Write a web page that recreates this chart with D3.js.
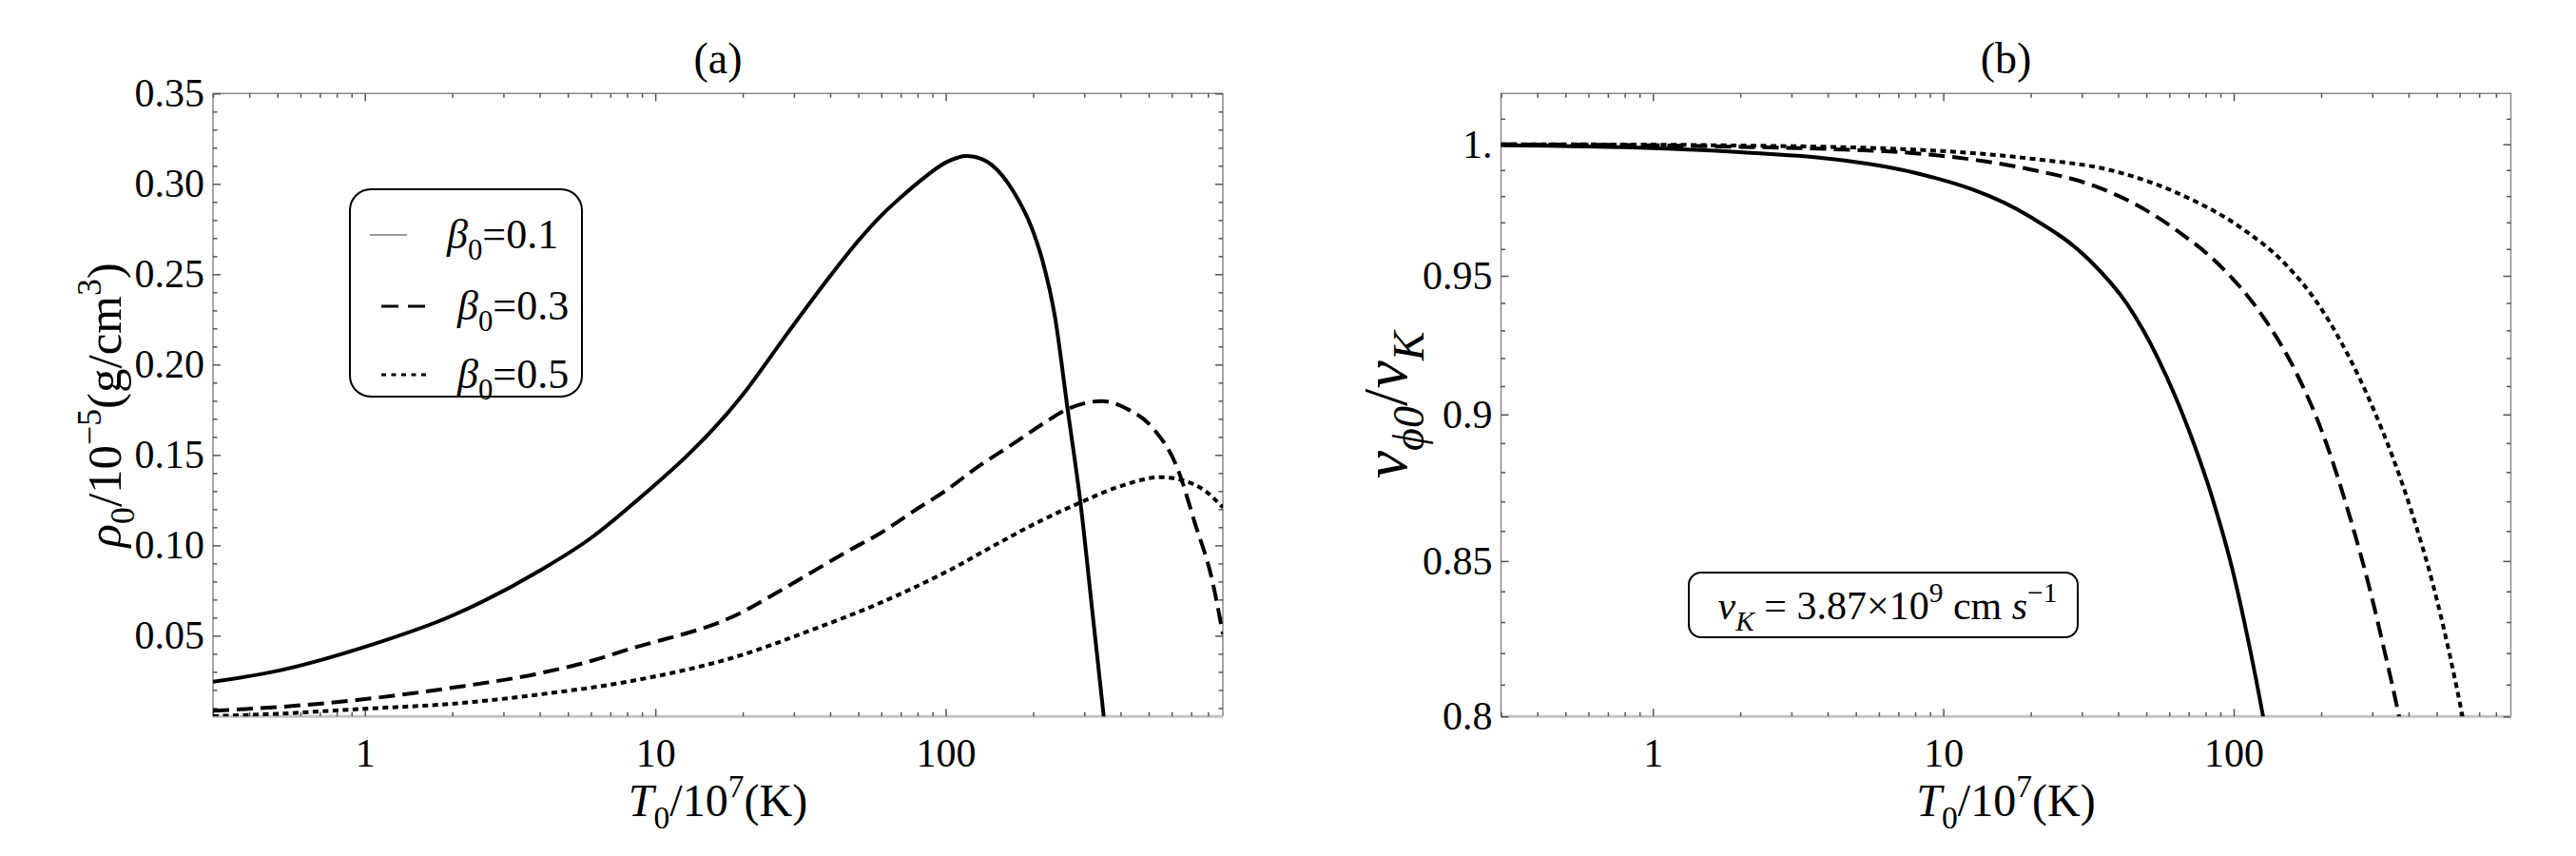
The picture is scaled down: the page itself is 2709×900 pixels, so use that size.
<!DOCTYPE html>
<html>
<head>
<meta charset="utf-8">
<script src="https://cdn.jsdelivr.net/npm/d3@7"></script>
<style>
  body { margin: 0; background: #fff; }
  svg { display: block; font-family: "Liberation Serif", "DejaVu Serif", serif; }
</style>
</head>
<body>
<svg width="2709" height="900"></svg>
<script>
// ---- data ----
// panel (a): rho0 / 1e-5 (g/cm^3) against T0 / 1e7 K
var tA1 = [0.3, 0.5, 1, 2, 4, 6, 8, 20, 28.6, 40, 50, 60, 70, 80, 90, 100, 110, 117, 125, 144, 170, 198, 215, 238, 263, 291, 320, 350, 375];
var rhoA1 = [0.0245, 0.0305, 0.0438, 0.0611, 0.086, 0.104, 0.1202, 0.1833, 0.2176, 0.249, 0.2685, 0.2825, 0.2925, 0.3005, 0.307, 0.3118, 0.3145, 0.3154, 0.315, 0.3105, 0.2965, 0.2754, 0.258, 0.226, 0.175, 0.1237, 0.063, 0.0053, -0.04];
var tA3 = [0.3, 0.5, 1, 2, 4, 6, 8, 20, 25, 33.8, 45.7, 60, 78, 99, 130, 170, 215, 263, 345, 422, 516, 630, 722, 827, 900];
var rhoA3 = [0.0085, 0.0105, 0.0149, 0.0212, 0.0292, 0.036, 0.0422, 0.0632, 0.0719, 0.0842, 0.0965, 0.107, 0.1192, 0.1298, 0.1438, 0.156, 0.167, 0.1754, 0.1798, 0.1754, 0.165, 0.142, 0.112, 0.0807, 0.0509];
var tA5 = [0.3, 0.5, 1, 2, 4, 8, 20, 33.8, 60, 102, 154, 215, 291, 394, 551, 653, 773, 900];
var rhoA5 = [0.0055, 0.0068, 0.0096, 0.0123, 0.0175, 0.0245, 0.0395, 0.0526, 0.0684, 0.0859, 0.1017, 0.114, 0.1237, 0.1324, 0.1377, 0.136, 0.1307, 0.121];

// panel (b): v_phi0 / v_K against T0 / 1e7 K
var tB1 = [0.3, 1, 2, 4, 6, 8, 20, 31.8, 43, 54.5, 70, 84.3, 99.8, 112, 125.5, 140];
var vB1 = [0.9996, 0.9985, 0.9969, 0.99445, 0.99176, 0.98893, 0.972, 0.9559, 0.9395, 0.9205, 0.8946, 0.8713, 0.8458, 0.8244, 0.8012, 0.776];
var tB3 = [0.3, 1, 2, 4, 8, 20, 32.9, 46, 64.4, 90.2, 126.3, 165, 202.4, 254, 290.9, 333.1, 368.2, 400];
var vB3 = [0.99995, 0.9996, 0.999, 0.99815, 0.9965, 0.9902, 0.984, 0.9768, 0.9666, 0.9535, 0.9349, 0.9143, 0.8934, 0.8631, 0.8425, 0.8193, 0.8014, 0.785];
var tB5 = [0.3, 1, 2, 4, 7.2, 19.9, 38.9, 64.4, 106.6, 149.5, 195.5, 247.5, 303, 410, 485.6, 555.5, 610.4, 650];
var vB5 = [1.0, 0.99985, 0.9995, 0.999, 0.99815, 0.99445, 0.98955, 0.98103, 0.96775, 0.9547, 0.9395, 0.9211, 0.9018, 0.8664, 0.8422, 0.8191, 0.801, 0.788];

var betaLabels = ["0.1", "0.3", "0.5"];
var xTicks = [1, 10, 100];
var xTickLabels = ["1", "10", "100"];
var yTicksA = [0.05, 0.1, 0.15, 0.2, 0.25, 0.3, 0.35];
var yTickLabelsA = ["0.05", "0.10", "0.15", "0.20", "0.25", "0.30", "0.35"];
var yTicksB = [0.8, 0.85, 0.9, 0.95, 1.0];
var yTickLabelsB = ["0.8", "0.85", "0.9", "0.95", "1."];

var styles = [
  { dash: null },
  { dash: "17,8" },
  { dash: "6,4.5" }
];

var svg = d3.select("svg");

var top_ = 98.3, bottom = 753.3;

var xA = d3.scaleLog().domain([0.3, 900]).range([224, 1286]);
var yA = d3.scaleLinear().domain([0.0053, 0.35]).range([bottom, top_]);
var xB = d3.scaleLog().domain([0.3, 900]).range([1578.5, 2640.5]);
var yB = d3.scaleLog().domain([0.8, 1.02]).range([bottom, top_]);

function zip(t, v) {
  return t.map(function (d, i) { return [d, v[i]]; });
}

// text with italic parts, subscripts and superscripts
function richText(txt, parts, size) {
  var shift = 0;
  parts.forEach(function (p) {
    var kind = p[1] || "";
    var fs = size, target = 0;
    if (kind.indexOf("sub") >= 0) { fs = size * 0.7; target = size * 0.28; }
    if (kind.indexOf("sup") >= 0) { fs = size * 0.7; target = -size * 0.42; }
    txt.append("tspan")
      .attr("font-size", fs)
      .attr("font-style", kind.indexOf("i") === 0 ? "italic" : null)
      .attr("dy", target - shift)
      .text(p[0]);
    shift = target;
  });
}

function minorLog(x) {
  var out = [];
  [0.1, 1, 10, 100].forEach(function (d) {
    for (var k = 2; k <= 9; k++) {
      var v = k * d;
      if (v > x.domain()[0] && v < x.domain()[1]) out.push(v);
    }
  });
  return out;
}

function panel(id, x, y, yTicks, yLabels, yMinor, series, title) {
  var g = svg.append("g").attr("class", "panel-" + id);
  var x0 = x.range()[0], x1 = x.range()[1];

  g.append("clipPath").attr("id", "clip-" + id)
    .append("rect")
    .attr("x", x0).attr("y", top_)
    .attr("width", x1 - x0).attr("height", bottom - top_);

  // frame
  g.append("path")
    .attr("d", "M" + x0 + "," + bottom + "V" + top_ + "H" + x1 + "V" + bottom)
    .attr("fill", "none").attr("stroke", "#8a8a8a").attr("stroke-width", 1.5);
  g.append("line")
    .attr("x1", x0).attr("x2", x1).attr("y1", bottom).attr("y2", bottom)
    .attr("stroke", "#c4c4c4").attr("stroke-width", 3);

  var mkAxis = function (gen, vals, size, fmt, tr) {
    var a = g.append("g")
      .attr("transform", tr)
      .call(gen.tickValues(vals).tickSize(size).tickPadding(fmt ? 10 : 0)
        .tickFormat(fmt || function () { return ""; }));
    a.attr("font-family", null).attr("font-size", 42);
    a.select(".domain").remove();
    a.selectAll("line").attr("stroke", "#555").attr("stroke-width", 1.5);
    a.selectAll("text").attr("fill", "#000");
    return a;
  };

  var xMinor = minorLog(x).filter(function (v) { return xTicks.indexOf(v) < 0; });
  var xl = function (v) { return xTickLabels[xTicks.indexOf(v)]; };
  var yl = function (v) { return yLabels[yTicks.indexOf(v)]; };

  var xb = mkAxis(d3.axisBottom(x), xTicks, -8, xl, "translate(0," + bottom + ")");
  xb.selectAll("text").attr("dy", null).attr("y", 53);
  mkAxis(d3.axisBottom(x), xMinor, -4.5, null, "translate(0," + bottom + ")");
  mkAxis(d3.axisTop(x), xTicks, -8, null, "translate(0," + top_ + ")");
  mkAxis(d3.axisTop(x), xMinor, -4.5, null, "translate(0," + top_ + ")");
  var ya = mkAxis(d3.axisLeft(y), yTicks, -8, yl, "translate(" + x0 + ",0)");
  ya.selectAll("text").attr("x", -9);
  mkAxis(d3.axisLeft(y), yMinor, -4.5, null, "translate(" + x0 + ",0)");
  mkAxis(d3.axisRight(y), yTicks, -8, null, "translate(" + x1 + ",0)");
  mkAxis(d3.axisRight(y), yMinor, -4.5, null, "translate(" + x1 + ",0)");

  // curves
  var line = d3.line()
    .x(function (d) { return x(d[0]); })
    .y(function (d) { return y(d[1]); })
    .curve(d3.curveMonotoneX);

  g.append("g")
    .attr("clip-path", "url(#clip-" + id + ")")
    .selectAll("path")
    .data(series)
    .enter()
    .append("path")
    .attr("d", function (d) { return line(d); })
    .attr("fill", "none")
    .attr("stroke", "#000")
    .attr("stroke-width", 4)
    .attr("stroke-dasharray", function (d, i) { return styles[i].dash; });

  // title
  g.append("text")
    .attr("x", (x0 + x1) / 2)
    .attr("y", 77)
    .attr("text-anchor", "middle")
    .attr("font-size", 46)
    .text(title);

  // x label
  var xt = g.append("text")
    .attr("x", (x0 + x1) / 2)
    .attr("y", 858)
    .attr("text-anchor", "middle");
  richText(xt, [["T", "i"], ["0", "sub"], ["/10", ""], ["7", "sup"], ["(K)", ""]], 48);

  return g;
}

var minorA = d3.range(1, 35).map(function (d) { return d / 100; })
  .filter(function (v) { return v > 0.0053 && Math.round(v * 100) % 5 !== 0; });
var minorB = d3.range(81, 102).map(function (d) { return d / 100; })
  .filter(function (v) { return Math.round(v * 100) % 5 !== 0; });

var gA = panel("a", xA, yA, yTicksA, yTickLabelsA, minorA,
  [zip(tA1, rhoA1), zip(tA3, rhoA3), zip(tA5, rhoA5)], "(a)");
var gB = panel("b", xB, yB, yTicksB, yTickLabelsB, minorB,
  [zip(tB1, vB1), zip(tB3, vB3), zip(tB5, vB5)], "(b)");

// y axis labels
var ylA = gA.append("text")
  .attr("transform", "translate(127," + (top_ + bottom) / 2 + ") rotate(-90)")
  .attr("text-anchor", "middle");
richText(ylA, [["\u03c1", "i"], ["0", "sub"], ["/10", ""], ["\u22125", "sup"], ["(g/cm", ""], ["3", "sup"], [")", ""]], 51);

var ylB = gB.append("text")
  .attr("transform", "translate(1479," + (top_ + bottom) / 2 + ") rotate(-90)")
  .attr("text-anchor", "middle");
richText(ylB, [["v", "i"], ["\u03d50", "isub"], ["/", ""], ["v", "i"], ["K", "isub"]], 66);

// legend in panel (a)
var leg = gA.append("g").attr("class", "legend");
leg.append("rect")
  .attr("x", 368).attr("y", 199).attr("width", 244).attr("height", 218)
  .attr("rx", 22)
  .attr("fill", "#fff").attr("stroke", "#000").attr("stroke-width", 2);

var legRows = [
  { y: 247, x1: 389, x2: 428, tx: 470, stroke: "#777", w: 1.5, dash: null },
  { y: 322, x1: 401, x2: 449, tx: 481, stroke: "#000", w: 3, dash: "18,10" },
  { y: 394, x1: 401, x2: 449, tx: 481, stroke: "#000", w: 3, dash: "5,5.5" }
];
legRows.forEach(function (r, i) {
  leg.append("line")
    .attr("x1", r.x1).attr("x2", r.x2).attr("y1", r.y).attr("y2", r.y)
    .attr("stroke", r.stroke).attr("stroke-width", r.w)
    .attr("stroke-dasharray", r.dash);
  var t = leg.append("text").attr("x", r.tx).attr("y", r.y + 14);
  richText(t, [["\u03b2", "i"], ["0", "sub"], ["=" + betaLabels[i], ""]], 44);
});

// v_K annotation in panel (b)
gB.append("rect")
  .attr("x", 1776).attr("y", 602).attr("width", 409).attr("height", 68)
  .attr("rx", 13)
  .attr("fill", "#fff").attr("stroke", "#000").attr("stroke-width", 2);
var ann = gB.append("text")
  .attr("x", 1985).attr("y", 651)
  .attr("text-anchor", "middle");
richText(ann, [["v", "i"], ["K", "isub"], [" = 3.87\u00d710", ""], ["9", "sup"], [" cm ", ""], ["s", "i"], ["\u22121", "sup"]], 42);
</script>
</body>
</html>
